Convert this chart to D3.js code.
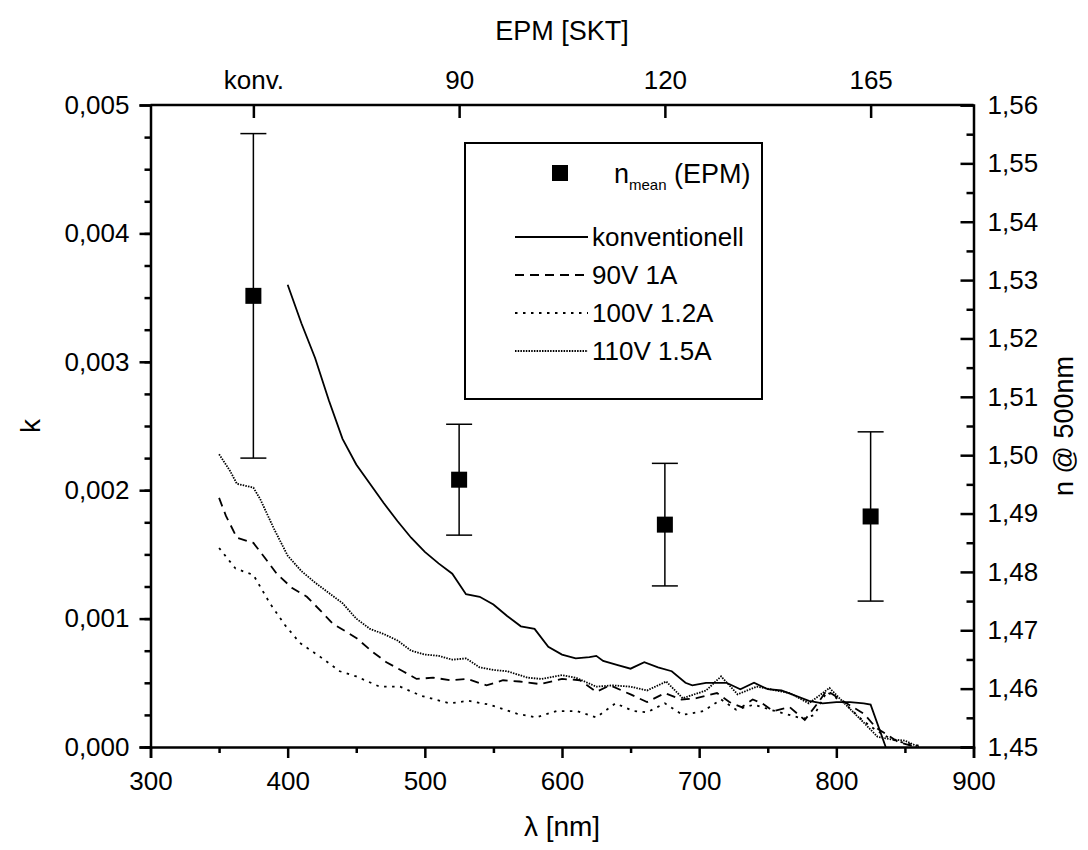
<!DOCTYPE html>
<html>
<head>
<meta charset="utf-8">
<script src="https://cdn.jsdelivr.net/npm/d3@7/dist/d3.min.js"></script>
<style>
  body { margin: 0; background: #fff; }
  text { font-family: "Liberation Sans", Arial, sans-serif; fill: #000; }
</style>
</head>
<body>
<svg width="1088" height="850"></svg>
<script>
// k-Werte der Schichten (lambda in nm, k)
var konventionell = [
  [400,0.00360],[410,0.00330],[420,0.00303],[430,0.00270],[440,0.00240],[450,0.00220],
  [460,0.00205],[470,0.00190],[480,0.00176],[490,0.00163],[500,0.00152],[510,0.00143],
  [520,0.00135],[530,0.00119],[540,0.00117],[550,0.00111],[560,0.00102],[570,0.00094],
  [580,0.00092],[590,0.00078],[600,0.00072],[610,0.00069],[620,0.00070],[625,0.00071],
  [630,0.00067],[640,0.00064],[650,0.00061],[660,0.00066],[670,0.00062],[680,0.00059],
  [690,0.00050],[695,0.00048],[705,0.00050],[720,0.00050],[730,0.00045],[740,0.00050],
  [750,0.00045],[760,0.00044],[770,0.00040],[780,0.00036],[790,0.00034],[800,0.00035],
  [810,0.00035],[820,0.00034],[825,0.00033],[836,0.00000]
];
var v90 = [
  [350,0.00194],[355,0.00180],[363,0.00163],[375,0.00159],[385,0.00145],[392,0.00135],
  [403,0.00124],[414,0.00117],[425,0.00105],[433,0.00096],[450,0.00085],[462,0.00074],
  [472,0.00066],[484,0.00059],[494,0.00053],[506,0.00054],[519,0.00052],[531,0.00053],
  [545,0.00048],[557,0.00052],[569,0.00051],[584,0.00049],[600,0.00053],[613,0.00052],
  [625,0.00043],[635,0.00048],[650,0.00041],[662,0.00035],[675,0.00042],[687,0.00037],
  [698,0.00038],[713,0.00042],[722,0.00035],[731,0.00031],[739,0.00037],[746,0.00034],
  [754,0.00028],[766,0.00031],[777,0.00021],[787,0.00035],[793,0.00044],[806,0.00035],
  [820,0.00026],[829,0.00015],[845,0.00004],[858,0.00000]
];
var v100 = [
  [350,0.00155],[362,0.00139],[375,0.00134],[387,0.00112],[398,0.00095],[409,0.00081],
  [424,0.00070],[438,0.00059],[450,0.00055],[467,0.00047],[482,0.00047],[497,0.00040],
  [518,0.00034],[532,0.00036],[547,0.00033],[567,0.00026],[581,0.00023],[596,0.00028],
  [611,0.00028],[625,0.00023],[639,0.00034],[652,0.00028],[662,0.00027],[675,0.00034],
  [688,0.00025],[703,0.00028],[716,0.00037],[727,0.00029],[740,0.00033],[752,0.00029],
  [776,0.00022],[784,0.00025],[793,0.00043],[806,0.00034],[820,0.00020],[829,0.00013],
  [840,0.00006],[850,0.00003],[860,0.00001]
];
var v110 = [
  [350,0.00228],[358,0.00215],[363,0.00205],[375,0.00202],[380,0.00193],[390,0.00170],
  [400,0.00149],[410,0.00137],[420,0.00128],[430,0.00120],[440,0.00112],[450,0.00100],
  [460,0.00092],[470,0.00088],[480,0.00083],[490,0.00075],[500,0.00072],[510,0.00071],
  [520,0.00068],[530,0.00069],[540,0.00062],[550,0.00060],[560,0.00059],[575,0.00054],
  [585,0.00053],[600,0.00056],[610,0.00054],[625,0.00047],[637,0.00048],[650,0.00047],
  [662,0.00044],[676,0.00051],[688,0.00038],[705,0.00044],[716,0.00055],[728,0.00041],
  [742,0.00047],[766,0.00042],[780,0.00034],[795,0.00046],[805,0.00035],[820,0.00019],
  [830,0.00008],[840,0.00006],[850,0.00005],[860,0.00000]
];

// n bei 500nm je EPM-Einstellung
var epmLabels = ["konv.", "90", "120", "165"];
var nMean = [1.5273, 1.4958, 1.4881, 1.4895];
var nErr  = [0.0278, 0.0095, 0.0105, 0.0145];

var serien = [
  {name:"konventionell", data:konventionell, dash:null},
  {name:"90V 1A",        data:v90,           dash:"9,6"},
  {name:"100V 1.2A",     data:v100,          dash:"2.5,5.5"},
  {name:"110V 1.5A",     data:v110,          dash:"1.5,1.2"}
];

var svg = d3.select("svg");
var L = 150.5, R = 973.5, T = 105, B = 747;

var x = d3.scaleLinear().domain([300, 900]).range([L, R]);
var y = d3.scaleLinear().domain([0, 0.005]).range([B, T]);
var yN = d3.scaleLinear().domain([1.45, 1.56]).range([B, T]);
var xTop = d3.scalePoint().domain(epmLabels).range([x(375), x(825)]);

var komma = function(f) { return function(d) { return d3.format(f)(d).replace(".", ","); }; };

// Kurven
var linie = d3.line().x(function(d) { return x(d[0]); }).y(function(d) { return y(d[1]); });
svg.append("clipPath").attr("id", "c").append("rect")
  .attr("x", L).attr("y", T).attr("width", R - L).attr("height", B - T + 1);
svg.append("g").attr("clip-path", "url(#c)").selectAll("path").data(serien).enter().append("path")
  .attr("d", function(d) { return linie(d.data); })
  .attr("fill", "none").attr("stroke", "#000").attr("stroke-width", 1.8)
  .attr("stroke-dasharray", function(d) { return d.dash; });

// Fehlerbalken + Quadrate
var pts = epmLabels.map(function(l, i) { return {l:l, n:nMean[i], e:nErr[i]}; });
var g = svg.append("g").selectAll("g").data(pts).enter().append("g");
g.append("line").attr("x1", function(d) { return xTop(d.l); }).attr("x2", function(d) { return xTop(d.l); })
  .attr("y1", function(d) { return yN(d.n + d.e); }).attr("y2", function(d) { return yN(d.n - d.e); })
  .attr("stroke", "#000").attr("stroke-width", 1.5);
[1, -1].forEach(function(s) {
  g.append("line").attr("x1", function(d) { return xTop(d.l) - 13; }).attr("x2", function(d) { return xTop(d.l) + 13; })
    .attr("y1", function(d) { return yN(d.n + s * d.e); }).attr("y2", function(d) { return yN(d.n + s * d.e); })
    .attr("stroke", "#000").attr("stroke-width", 1.5);
});
g.append("rect").attr("x", function(d) { return xTop(d.l) - 8; }).attr("y", function(d) { return yN(d.n) - 8; })
  .attr("width", 16).attr("height", 16).attr("fill", "#000");

// Achsen
function stil(sel, fs) {
  sel.select(".domain").attr("stroke-width", 2.5);
  sel.selectAll(".tick line").attr("stroke-width", 2.5);
  sel.selectAll(".tick text").attr("font-size", fs).style("font-family", "'Liberation Sans', Arial, sans-serif");
}
function minor(axis, pos, ticks, len) {
  svg.append("g").attr("transform", pos).call(axis.tickValues(ticks).tickSize(len).tickFormat(""))
    .call(function(s) { s.select(".domain").remove(); s.selectAll(".tick line").attr("stroke-width", 2.5); });
}

minor(d3.axisBottom(x), "translate(0," + B + ")", d3.range(350, 900, 100), 6);
minor(d3.axisLeft(y), "translate(" + L + ",0)", d3.range(0, 0.005, 0.00025), 6);
minor(d3.axisLeft(yN), "translate(" + R + ",0)", d3.range(1.455, 1.56, 0.01), 7);

svg.append("g").attr("transform", "translate(0," + B + ")")
  .call(d3.axisBottom(x).tickValues(d3.range(300, 901, 100)).tickSize(11).tickPadding(14))
  .call(function(s) { stil(s, 26); });
svg.append("g").attr("transform", "translate(" + L + ",0)")
  .call(d3.axisLeft(y).tickValues(d3.range(0, 0.00501, 0.001)).tickSize(11).tickPadding(10).tickFormat(komma(".3f")))
  .call(function(s) { stil(s, 26); });
svg.append("g").attr("transform", "translate(" + R + ",0)")
  .call(d3.axisRight(yN).tickValues(d3.range(1.45, 1.5601, 0.01)).tickSize(-13).tickPadding(14).tickFormat(komma(".2f")))
  .call(function(s) { stil(s, 26); });
svg.append("g").attr("transform", "translate(0," + T + ")")
  .call(d3.axisTop(xTop).tickSize(-13).tickPadding(16))
  .call(function(s) { stil(s, 26); s.select(".domain").attr("d", "M" + L + ",0H" + R); });

// Achsentitel
svg.append("text").attr("x", (L + R) / 2).attr("y", 836).attr("text-anchor", "middle")
  .attr("font-size", 28).text("λ [nm]");
svg.append("text").attr("x", (L + R) / 2).attr("y", 40).attr("text-anchor", "middle")
  .attr("font-size", 27).text("EPM [SKT]");
svg.append("text").attr("transform", "translate(40," + ((T + B) / 2) + ") rotate(-90)")
  .attr("text-anchor", "middle").attr("font-size", 28).text("k");
svg.append("text").attr("transform", "translate(1073," + ((T + B) / 2) + ") rotate(-90)")
  .attr("text-anchor", "middle").attr("font-size", 27).text("n @ 500nm");

// Legende
var lg = svg.append("g");
lg.append("rect").attr("x", 465).attr("y", 143).attr("width", 297).attr("height", 256)
  .attr("fill", "#fff").attr("stroke", "#000").attr("stroke-width", 2);
lg.append("rect").attr("x", 552).attr("y", 165).attr("width", 16).attr("height", 16).attr("fill", "#000");
var t = lg.append("text").attr("x", 614).attr("y", 183).attr("font-size", 27);
t.append("tspan").text("n");
t.append("tspan").attr("font-size", 15).attr("dy", 7).text("mean");
t.append("tspan").attr("dy", -7).text(" (EPM)");
var zeilen = lg.selectAll(".z").data(serien).enter().append("g")
  .attr("transform", function(d, i) { return "translate(0," + (237 + i * 38) + ")"; });
zeilen.append("line").attr("x1", 515).attr("x2", 588).attr("y1", 0).attr("y2", 0)
  .attr("stroke", "#000").attr("stroke-width", 1.8).attr("stroke-dasharray", function(d) { return d.dash; });
zeilen.append("text").attr("x", 592).attr("y", 9).attr("font-size", 26).text(function(d) { return d.name; });
</script>
</body>
</html>
